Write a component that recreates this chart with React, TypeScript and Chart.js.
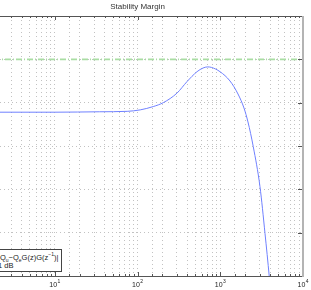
import React, { useEffect, useRef } from "react";
import { Chart, registerables } from "chart.js";

Chart.register(...registerables);

// Frequency (Hz) and stability margin (dB) of the blue curve
const freqHz = [1, 10, 35, 75, 108, 155, 205, 300, 396, 524, 620, 700, 780, 993, 1312, 1638, 1935, 2163, 2506, 3021, 3473, 3914, 4400];
const marginDb = [-0.22, -0.22, -0.21, -0.2, -0.166, -0.09, 0.0, 0.22, 0.485, 0.715, 0.80, 0.825, 0.815, 0.715, 0.50, 0.20, -0.123, -0.446, -1.016, -1.94, -3.015, -4.017, -5.1];
// Threshold line
const thresholdFreq = [1, 10000];
const thresholdDb = [1, 1];
// Axis ranges / tick labels
const xDecades = [1, 10, 100, 1000, 10000];
const xDecadeBase = "10";
const xDecadeExponents = ["0", "1", "2", "3", "4"];
const yMin = -4;
const yMax = 2;
const yStep = 1;
const titleText = "Stability Margin";

const CANVAS_LEFT = -50;
const CANVAS_W = 361;
const CANVAS_H = 290;
const FONT = "'Liberation Sans', Arial, sans-serif";

const framePlugin = {
  id: "frame",
  afterDraw(chart: any) {
    const { ctx, chartArea: a, scales } = chart;
    ctx.save();
    ctx.lineWidth = 1;
    ctx.strokeStyle = "#555";
    ctx.beginPath();
    ctx.moveTo(a.left, a.top + 0.5);
    ctx.lineTo(a.right, a.top + 0.5);
    ctx.moveTo(a.left, a.bottom + 0.5);
    ctx.lineTo(a.right, a.bottom + 0.5);
    ctx.moveTo(a.left + 0.5, a.top);
    ctx.lineTo(a.left + 0.5, a.bottom);
    ctx.stroke();
    // inward tick marks on x
    const xs = scales.x;
    ctx.beginPath();
    for (const t of xs.ticks) {
      const lg = Math.log10(t.value);
      const major = Math.abs(lg - Math.round(lg)) < 1e-9;
      const len = major ? 4 : 2;
      const px = Math.round(xs.getPixelForValue(t.value)) + 0.5;
      ctx.moveTo(px, a.bottom);
      ctx.lineTo(px, a.bottom - len);
      ctx.moveTo(px, a.top);
      ctx.lineTo(px, a.top + len);
    }
    const ys = scales.y;
    for (const t of ys.ticks) {
      const py = Math.round(ys.getPixelForValue(t.value)) + 0.5;
      ctx.moveTo(a.right - 1, py);
      ctx.lineTo(a.right - 5, py);
      ctx.moveTo(a.left, py);
      ctx.lineTo(a.left + 4, py);
    }
    ctx.stroke();
    // right border (light grey)
    ctx.strokeStyle = "#b4b4b4";
    ctx.lineWidth = 2;
    ctx.beginPath();
    ctx.moveTo(a.right, a.top);
    ctx.lineTo(a.right, a.bottom + 1);
    ctx.stroke();

    // decade labels 10^n
    ctx.fillStyle = "#222";
    ctx.textBaseline = "alphabetic";
    xDecades.forEach((v, i) => {
      const px = xs.getPixelForValue(v);
      ctx.font = `7px ${FONT}`;
      ctx.textAlign = "center";
      ctx.fillText(xDecadeBase, px - 1.5, a.bottom + 11);
      const w = ctx.measureText(xDecadeBase).width;
      ctx.font = `5px ${FONT}`;
      ctx.textAlign = "left";
      ctx.fillText(xDecadeExponents[i], px - 1.5 + w / 2 + 0.3, a.bottom + 7);
    });
    ctx.restore();
  },
};

export default function App() {
  const ref = useRef<HTMLCanvasElement | null>(null);

  useEffect(() => {
    if (!ref.current) return;
    const chart = new Chart(ref.current, {
      type: "line",
      data: {
        datasets: [
          {
            label: "|Qu-QeG(z)G(z^-1)|",
            data: freqHz.map((f, i) => ({ x: f, y: marginDb[i] })),
            borderColor: "#6f80ff",
            borderWidth: 1,
            pointRadius: 0,
            cubicInterpolationMode: "monotone",
            fill: false,
          },
          {
            label: "1 dB",
            data: thresholdFreq.map((f, i) => ({ x: f, y: thresholdDb[i] })),
            borderColor: "#a9dda3",
            borderWidth: 1.6,
            borderDash: [6, 2, 1, 2],
            pointRadius: 0,
            fill: false,
          },
        ],
      },
      options: {
        animation: false,
        responsive: false,
        devicePixelRatio: 1,
        layout: { padding: { left: 22, right: 8, top: 0, bottom: 14 } },
        plugins: {
          legend: { display: false },
          tooltip: { enabled: false },
          title: {
            display: true,
            text: titleText,
            color: "#333",
            font: { family: FONT, size: 8, weight: "normal", lineHeight: 1.2 },
            padding: { top: 2.4, bottom: 4 },
          },
        },
        scales: {
          x: {
            type: "logarithmic",
            min: 1,
            max: 10000,
            grid: { color: "#c2c2c2", lineWidth: 1, drawTicks: false },
            border: { display: false, dash: [1, 3] },
            ticks: {
              display: false,
              autoSkip: false,
              callback: () => "",
            },
          },
          y: {
            type: "linear",
            min: yMin,
            max: yMax,
            grid: { color: "#c2c2c2", lineWidth: 1, drawTicks: false },
            border: { display: false, dash: [1, 3] },
            ticks: { display: false, stepSize: yStep },
          },
        },
      },
      plugins: [framePlugin],
    });
    return () => chart.destroy();
  }, []);

  return (
    <div style={{ position: "fixed", left: 0, top: 0, width: 311, height: 290, overflow: "hidden", background: "#fff" }}>
      <canvas
        ref={ref}
        width={CANVAS_W}
        height={CANVAS_H}
        style={{ position: "absolute", left: CANVAS_LEFT, top: 0, width: CANVAS_W, height: CANVAS_H }}
      />
      <div
        style={{
          position: "absolute",
          left: -40,
          top: 249,
          width: 102,
          height: 23,
          boxSizing: "border-box",
          border: "1px solid #444",
          background: "#fff",
          fontFamily: FONT,
          fontSize: 7.5,
          color: "#222",
          lineHeight: 1,
        }}
      >
        <div style={{ position: "absolute", left: 4, top: 5, width: 30, borderTop: "1px solid #6f80ff" }} />
        <div style={{ position: "absolute", left: 37, top: 2, whiteSpace: "nowrap" }}>
          |Q<sub style={{ fontSize: 5 }}>u</sub>−Q<sub style={{ fontSize: 5 }}>e</sub>G(z)G(z<sup style={{ fontSize: 5 }}>−1</sup>)|
        </div>
        <div style={{ position: "absolute", left: 4, top: 15, width: 30, borderTop: "1.5px dashed #a9dda3" }} />
        <div style={{ position: "absolute", left: 37, top: 12, whiteSpace: "nowrap" }}>1 dB</div>
      </div>
    </div>
  );
}
